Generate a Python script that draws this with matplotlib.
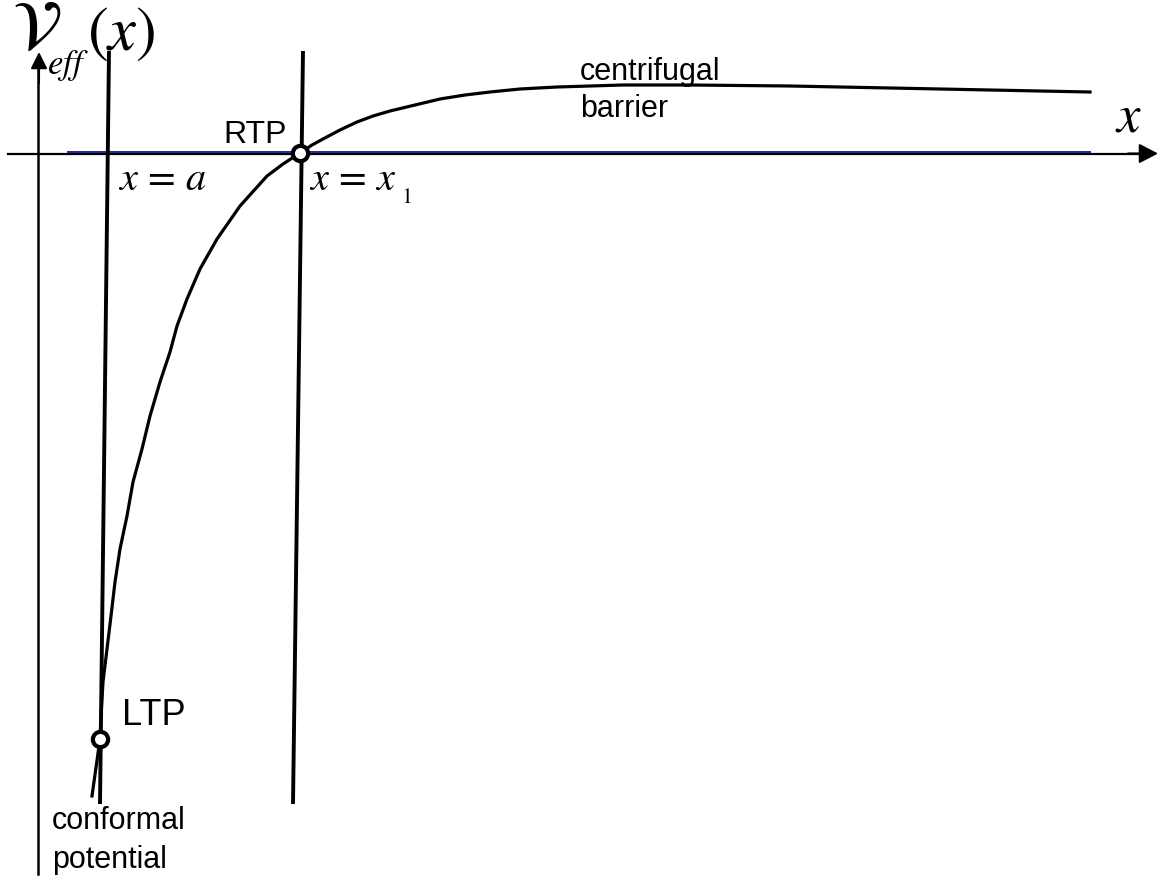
import matplotlib
matplotlib.use('Agg')
import matplotlib.pyplot as plt

plt.rcParams['mathtext.fontset'] = 'stix'
plt.rcParams['font.family'] = ['Liberation Sans', 'DejaVu Sans']

# diagram units: origin where the two axes cross, 1 unit = 100 px, y up
# effective potential curve
curve_x = [0.54, 0.62, 0.63, 0.65, 0.69, 0.73, 0.77, 0.82, 0.89, 0.95, 1.04,
           1.12, 1.22, 1.32, 1.39, 1.49, 1.62, 1.79, 2.02, 2.29, 2.45, 2.62,
           2.74, 2.85, 3.02, 3.19, 3.35, 3.52, 3.77, 4.02, 4.27, 4.52, 4.82,
           5.19, 5.85, 6.52, 7.52, 8.52, 9.52, 10.52]
curve_y = [-6.43, -5.86, -5.63, -5.29, -4.96, -4.63, -4.29, -3.96, -3.63, -3.29,
           -2.96, -2.63, -2.29, -1.99, -1.73, -1.46, -1.16, -0.86, -0.53, -0.23,
           -0.11, 0.00, 0.08, 0.14, 0.23, 0.31, 0.37, 0.42, 0.48, 0.54, 0.58,
           0.61, 0.64, 0.66, 0.68, 0.68, 0.67, 0.65, 0.63, 0.61]

# the two nearly vertical lines x = a and x = x1 (top, bottom)
line_a_x = [0.71, 0.62]
line_a_y = [1.02, -6.51]
line_x1_x = [2.65, 2.55]
line_x1_y = [1.02, -6.51]

# turning points
turn_names = ['LTP', 'RTP']
turn_x = [0.62, 2.62]
turn_y = [-5.86, 0.00]

# zero level of the potential (blue line)
zero_x = [0.30, 10.52]
zero_y = [0.012, 0.012]

fig = plt.figure(figsize=(11.64, 8.78), dpi=100)
ax = fig.add_axes([0, 0, 1, 1])
ax.set_xlim(-0.38, 11.26)
ax.set_ylim(-7.24, 1.54)
ax.axis('off')

# axes with arrows
ax.plot([0, 0], [-7.21, 0.9], color='black', lw=1.8)
ax.annotate('', xy=(0.01, 1.01), xytext=(0.01, 0.7),
            arrowprops=dict(arrowstyle='-|>,head_length=1.0,head_width=0.5',
                            mutation_scale=10, color='black', lw=1.5,
                            shrinkA=0, shrinkB=0))
ax.plot([-0.30, 11.05], [-0.005, -0.005], color='black', lw=1.6)
ax.annotate('', xy=(11.20, -0.005), xytext=(10.9, -0.005),
            arrowprops=dict(arrowstyle='-|>,head_length=1.15,head_width=0.6',
                            mutation_scale=10, color='black', lw=1.5,
                            shrinkA=0, shrinkB=0))
ax.plot(zero_x, zero_y, color='#24249e', lw=1.4)

ax.plot(line_a_x, line_a_y, color='black', lw=2.8, solid_capstyle='butt')
ax.plot(line_x1_x, line_x1_y, color='black', lw=2.8, solid_capstyle='butt')
ax.plot(curve_x, curve_y, color='black', lw=2.3, solid_joinstyle='round')

ax.plot(turn_x, turn_y, 'o', ms=11, mfc='white', mec='black', mew=3, zorder=5)

# labels
ax.text(0.84, -5.71, turn_names[0], fontsize=26, ha='left', va='baseline')
ax.text(2.49, 0.11, turn_names[1], fontsize=23, ha='right', va='baseline')
ax.text(5.42, 0.97, 'centrifugal\nbarrier', fontsize=22, ha='left', va='top',
        linespacing=1.3)
ax.text(0.14, -6.52, 'conformal\npotential', fontsize=22, ha='left', va='top',
        linespacing=1.39)

ax.text(0.80, -0.36, r'$x\,=\,a$', fontsize=29, ha='left', va='baseline')
ax.text(2.71, -0.36, r'$x\,=\,x$', fontsize=29, ha='left', va='baseline')
ax.text(3.63, -0.49, r'$\mathit{1}$', fontsize=16, ha='left', va='baseline')
ax.text(10.77, 0.22, r'$x$', fontsize=38, ha='left', va='baseline')

ax.text(-0.26, 1.05, r'$\mathcal{V}$', fontsize=50, ha='left', va='baseline')
ax.text(0.09, 0.80, r'$eff$', fontsize=25, ha='left', va='baseline')
ax.text(0.49, 1.04, r'$(x)$', fontsize=45, ha='left', va='baseline')

fig.savefig('out.png', dpi=100)
